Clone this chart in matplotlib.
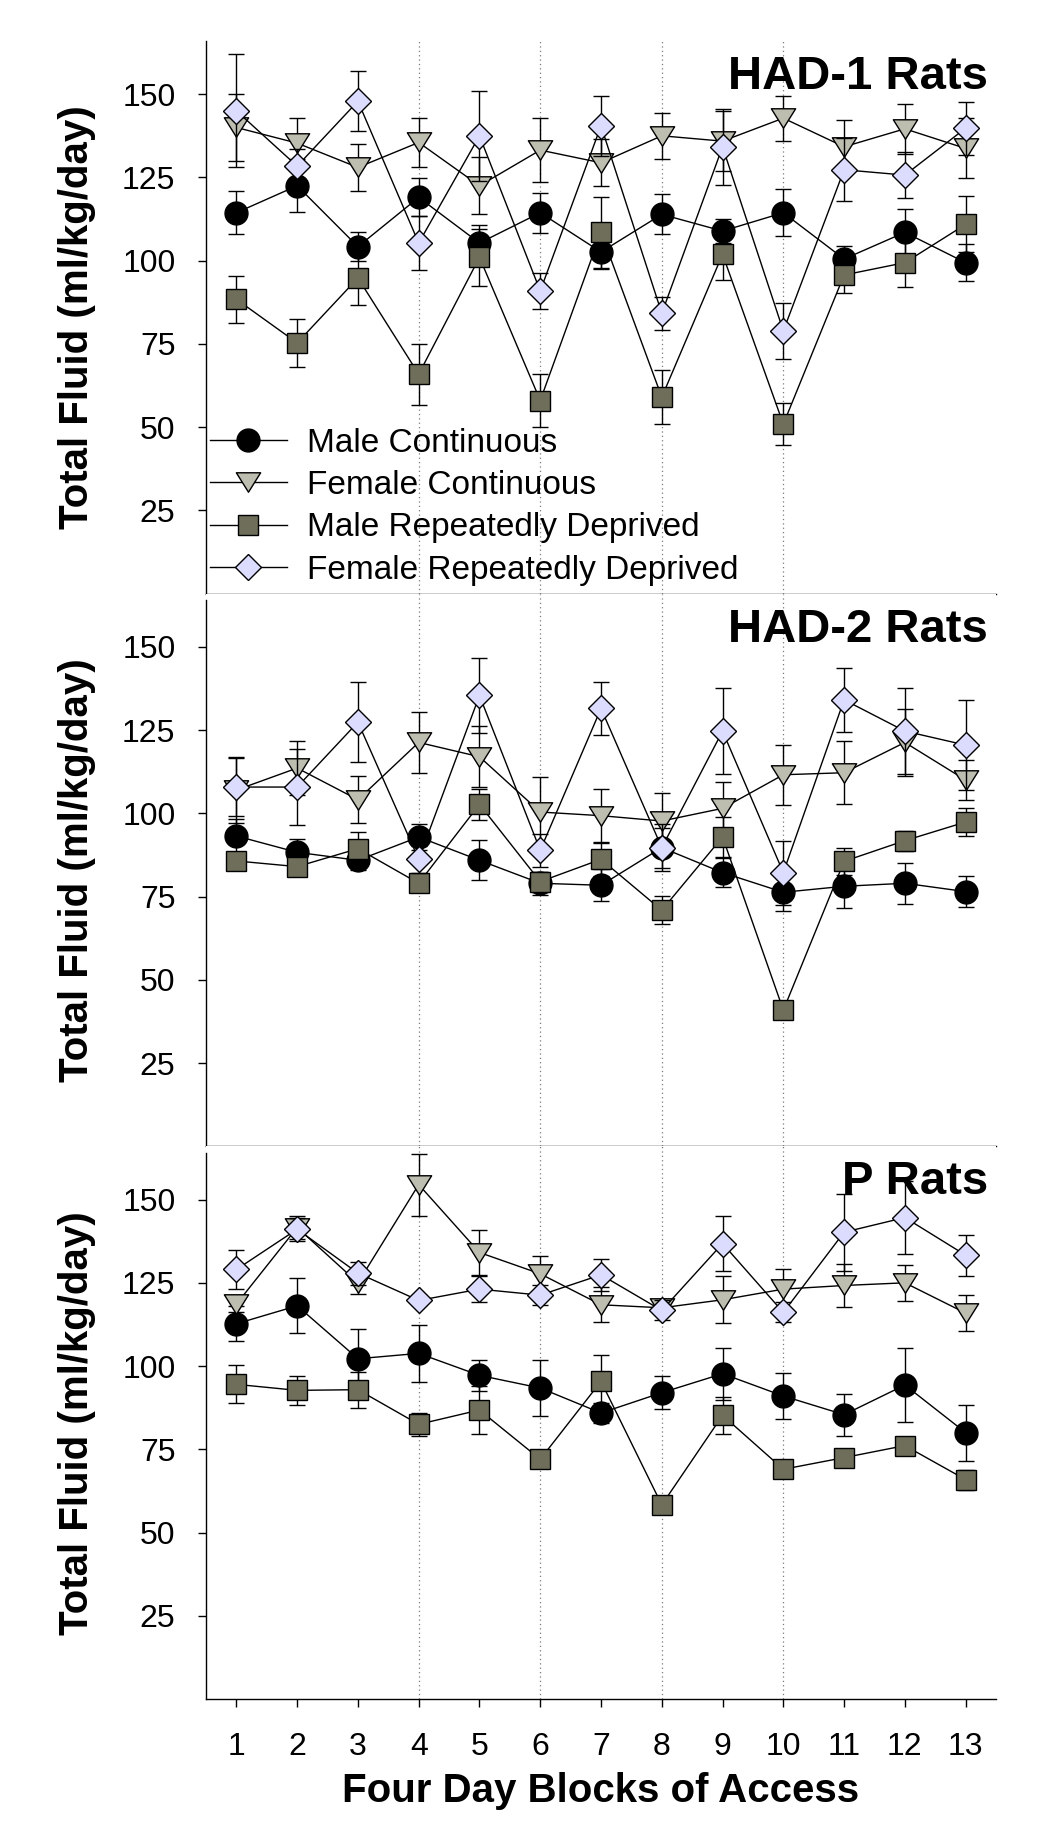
import numpy as np
import matplotlib
matplotlib.use('Agg')
import matplotlib.pyplot as plt
from matplotlib.path import Path

plt.rcParams['font.family'] = ['Liberation Sans', 'DejaVu Sans']

blocks = list(range(1, 14))
series_names = ['Male Continuous', 'Female Continuous', 'Male Repeatedly Deprived', 'Female Repeatedly Deprived']
panel_titles = ['HAD-1 Rats', 'HAD-2 Rats', 'P Rats']

# HAD-1
had1_mc = [114.4, 122.5, 104.2, 119.0, 105.3, 114.4, 102.6, 113.9, 108.9, 114.4, 100.5, 108.5, 99.4]
had1_mc_err = [6.5, 8.0, 4.3, 5.7, 5.5, 6.0, 5.0, 6.0, 3.6, 7.0, 4.0, 7.0, 5.5]
had1_fc = [140.0, 135.3, 128.0, 135.5, 122.5, 133.2, 129.4, 137.5, 135.9, 142.8, 134.2, 139.6, 133.7]
had1_fc_err = [10.0, 7.5, 7.0, 7.3, 8.5, 9.5, 7.0, 7.0, 9.0, 6.8, 8.0, 7.5, 9.0]
had1_mrd = [88.4, 75.3, 94.8, 65.9, 101.0, 58.0, 108.5, 59.0, 101.9, 50.9, 95.7, 99.4, 110.9]
had1_mrd_err = [7.1, 7.2, 8.0, 9.2, 8.5, 8.1, 10.7, 8.1, 7.6, 6.3, 5.4, 7.3, 8.4]
had1_frd = [145.0, 128.4, 147.9, 105.3, 137.5, 90.9, 140.5, 84.2, 134.2, 78.9, 127.3, 125.7, 139.8]
had1_frd_err = [17.0, 5.0, 9.0, 8.0, 13.6, 5.5, 9.0, 5.0, 11.5, 8.3, 9.5, 7.0, 8.0]

# HAD-2
had2_mc = [93.2, 88.3, 85.9, 92.9, 85.9, 79.0, 78.4, 89.7, 82.2, 76.3, 78.1, 79.0, 76.5]
had2_mc_err = [5.0, 4.0, 3.0, 4.0, 6.0, 3.5, 4.8, 6.0, 4.3, 5.7, 6.4, 6.2, 4.6]
had2_fc = [107.0, 113.6, 104.1, 121.3, 117.0, 100.4, 99.3, 97.7, 101.5, 111.6, 112.2, 121.3, 110.0]
had2_fc_err = [10.0, 8.2, 7.0, 9.2, 9.2, 10.5, 8.0, 8.5, 8.0, 9.0, 9.5, 10.0, 6.0]
had2_mrd = [85.7, 84.0, 89.4, 79.0, 102.7, 79.5, 86.2, 70.9, 92.9, 40.9, 85.6, 91.8, 97.4]
had2_mrd_err = [2.0, 2.0, 4.9, 2.0, 4.7, 3.0, 5.0, 4.2, 6.0, 2.0, 4.0, 3.0, 4.3]
had2_frd = [107.9, 107.9, 127.4, 86.2, 135.4, 88.9, 131.5, 89.7, 124.7, 82.2, 134.1, 124.7, 120.5]
had2_frd_err = [8.6, 11.5, 12.0, 4.0, 11.3, 5.0, 8.0, 7.0, 13.0, 9.6, 9.7, 13.0, 13.6]

# P
p_mc = [112.7, 118.1, 102.2, 103.8, 97.2, 93.4, 85.9, 92.0, 97.7, 91.0, 85.4, 94.3, 80.0]
p_mc_err = [5.3, 8.2, 8.9, 8.6, 4.6, 8.4, 3.0, 5.0, 7.8, 6.8, 6.3, 11.0, 8.4]
p_fc = [118.6, 141.6, 125.0, 154.5, 134.1, 127.7, 118.4, 117.5, 119.9, 123.1, 124.2, 125.0, 115.9]
p_fc_err = [2.5, 3.5, 3.5, 9.3, 6.8, 5.5, 5.3, 2.0, 7.0, 6.0, 6.5, 5.5, 5.5]
p_mrd = [94.5, 92.7, 92.9, 82.5, 86.8, 72.0, 95.4, 58.3, 85.2, 69.0, 72.5, 76.1, 65.9]
p_mrd_err = [5.7, 4.3, 5.4, 3.5, 7.3, 2.0, 8.0, 1.5, 5.5, 1.5, 2.0, 2.5, 3.0]
p_frd = [129.0, 141.1, 127.9, 119.7, 123.1, 121.3, 127.4, 116.7, 136.8, 116.1, 140.2, 144.6, 133.3]
p_frd_err = [6.0, 3.5, 3.5, 1.5, 4.0, 3.0, 4.8, 3.0, 8.3, 3.0, 11.6, 11.0, 6.2]

panels = [
    [(had1_mc, had1_mc_err), (had1_fc, had1_fc_err), (had1_mrd, had1_mrd_err), (had1_frd, had1_frd_err)],
    [(had2_mc, had2_mc_err), (had2_fc, had2_fc_err), (had2_mrd, had2_mrd_err), (had2_frd, had2_frd_err)],
    [(p_mc, p_mc_err), (p_fc, p_fc_err), (p_mrd, p_mrd_err), (p_frd, p_frd_err)],
]

# wide, flat down-triangle
tri = Path([(-1, 0.8), (1, 0.8), (0, -0.8), (-1, 0.8)], closed=True)
styles = [
    dict(marker='o', ms=16.5, mfc='black'),
    dict(marker=tri, ms=17.5, mfc='#bdbdb0'),
    dict(marker='s', ms=14.4, mfc='#6e6e5a'),
    dict(marker='D', ms=13.2, mfc='#dcdcff'),
]

fig = plt.figure(figsize=(10.5, 18.39), dpi=100)
left, width = 0.1962, 0.7524
h = 0.30054
bottoms = [0.67721, 0.37667, 0.07613]

for p in range(3):
    ax = fig.add_axes([left, bottoms[p], width, h])
    for xv in [4, 6, 8, 10]:
        ax.axvline(xv, color='#7a7a7a', ls=(0, (1, 2.5)), lw=0.9, zorder=0)
    handles = []
    for s in range(4):
        y, e = panels[p][s]
        z = 2 + s
        ax.errorbar(blocks, y, yerr=e, fmt='none', ecolor='black', elinewidth=1.0,
                    capsize=6, capthick=1.0, zorder=z)
        ln, = ax.plot(blocks, y, color='black', lw=1.0, mec='black', mew=1.0,
                      label=series_names[s], zorder=z + 0.5, **styles[s])
        handles.append(ln)
    ax.set_xlim(0.5, 13.5)
    ax.set_ylim(0, 166)
    ax.set_yticks([25, 50, 75, 100, 125, 150])
    ax.tick_params(axis='y', direction='out', length=6, width=1.0, pad=16, labelsize=23)
    ax.spines['top'].set_visible(False)
    ax.spines['right'].set_visible(False)
    ax.spines['left'].set_linewidth(1.0)
    ax.spines['bottom'].set_linewidth(1.0)
    if p > 0:
        ax.spines['left'].set_bounds(0, 164)
    ax.set_xticks(blocks)
    if p < 2:
        ax.tick_params(axis='x', bottom=False, labelbottom=False)
    else:
        ax.tick_params(axis='x', direction='out', length=6, width=1.0, pad=18, labelsize=23)
        ax.set_xlabel('Four Day Blocks of Access', fontsize=29, fontweight='bold')
        ax.xaxis.set_label_coords(0.5, -0.132)
    ax.set_ylabel('Total Fluid (ml/kg/day)', fontsize=29, fontweight='bold')
    ax.yaxis.set_label_coords(-0.139, 0.5)
    ax.text(0.99, 0.913, panel_titles[p], transform=ax.transAxes, ha='right', va='baseline',
            fontsize=34, fontweight='bold', zorder=1)
    if p == 0:
        ax.legend(handles=handles, loc='upper left', bbox_to_anchor=(0.005, 0.30),
                  frameon=False, fontsize=24, numpoints=1, handlelength=2.3,
                  handletextpad=0.6, labelspacing=0.34, borderpad=0, borderaxespad=0)

fig.savefig('out.png', dpi=100)
